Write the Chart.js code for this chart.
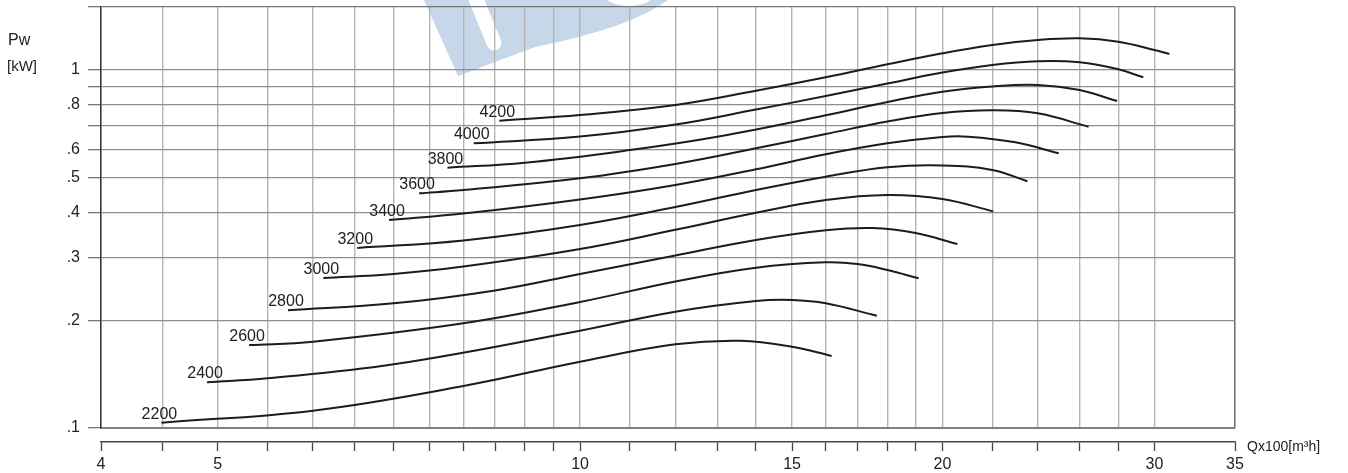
<!DOCTYPE html>
<html>
<head>
<meta charset="utf-8">
<script src="https://cdn.jsdelivr.net/npm/chart.js@4.4.0/dist/chart.umd.min.js"></script>
<style>
  html, body { margin: 0; padding: 0; background: #fff; }
  #wrap { width: 1348px; height: 473px; position: relative; }
</style>
</head>
<body>
<div id="wrap"><canvas id="chart"></canvas></div>
<script>
// fan speeds (rpm), one curve each
const speeds = [2200, 2400, 2600, 2800, 3000, 3200, 3400, 3600, 3800, 4000, 4200];

// Q x100 m3/h  /  Pw kW
const q2200 = [4.49, 6, 8, 10, 12, 13.6, 15, 16.18];
const p2200 = [0.1035, 0.1118, 0.1310, 0.1532, 0.1713, 0.1753, 0.1687, 0.1589];

const q2400 = [4.90, 5.5, 7, 10, 12, 14, 15, 16, 17.64];
const p2400 = [0.1342, 0.1377, 0.1506, 0.1870, 0.2113, 0.2263, 0.2278, 0.2230, 0.2059];

const q2600 = [5.31, 6, 8, 10, 12, 14, 16, 17, 18, 19.11];
const p2600 = [0.1705, 0.1742, 0.1961, 0.2249, 0.2566, 0.2804, 0.2903, 0.2871, 0.2763, 0.2619];

const q2800 = [5.72, 7, 8.5, 10, 12, 14, 16, 17.5, 19, 20.58];
const p2800 = [0.2132, 0.2230, 0.2423, 0.2693, 0.3033, 0.3350, 0.3566, 0.3619, 0.3505, 0.3266];

const q3000 = [6.12, 7, 8, 10, 12, 14, 16, 18, 20, 22.04];
const p3000 = [0.2624, 0.2693, 0.2825, 0.3162, 0.3578, 0.3993, 0.4334, 0.4475, 0.4362, 0.4029];

const q3200 = [6.53, 8, 10, 12, 14, 16, 18, 20, 22, 23.53];
const p3200 = [0.3183, 0.3340, 0.3690, 0.4143, 0.4623, 0.5035, 0.5349, 0.5411, 0.5257, 0.4889];

const q3400 = [6.94, 8, 10, 12, 14, 16, 18, 20, 21, 23, 24.98];
const p3400 = [0.3811, 0.3973, 0.4348, 0.4774, 0.5280, 0.5816, 0.6240, 0.6502, 0.6515, 0.6281, 0.5853];

const q3600 = [7.35, 8, 10, 12, 14, 16, 18, 20, 22, 24, 26.45];
const p3600 = [0.4525, 0.4623, 0.4982, 0.5464, 0.6043, 0.6625, 0.7181, 0.7583, 0.7716, 0.7570, 0.6944];

const q3800 = [7.76, 9, 11, 13, 16, 18, 20, 22, 24, 26, 27.93];
const p3800 = [0.5335, 0.5509, 0.5976, 0.6511, 0.7474, 0.8140, 0.8696, 0.8994, 0.9080, 0.8791, 0.8191];

const q4000 = [8.16, 10, 12, 14, 16, 18, 20, 22, 24, 26, 28, 29.37];
const p4000 = [0.6240, 0.6517, 0.7043, 0.7757, 0.8459, 0.9169, 0.9840, 1.0328, 1.0576, 1.0507, 1.0046, 0.9542];

const q4200 = [8.57, 10, 12, 14, 16, 18, 20, 22, 24, 26, 28, 30, 30.87];
const p4200 = [0.7219, 0.7487, 0.7986, 0.8753, 0.9542, 1.0373, 1.1134, 1.1744, 1.2129, 1.2261, 1.1998, 1.1372, 1.1085];

const flows = [q2200, q2400, q2600, q2800, q3000, q3200, q3400, q3600, q3800, q4000, q4200];
const powers = [p2200, p2400, p2600, p2800, p3000, p3200, p3400, p3600, p3800, p4000, p4200];

// grid / tick values
const xTicks = [4, 4.5, 5, 5.5, 6, 6.5, 7, 7.5, 8, 8.5, 9, 9.5, 10, 11, 12, 13, 14, 15, 16, 17, 18, 19, 20, 22, 24, 26, 28, 30, 35];
const xLabelled = [4, 5, 10, 15, 20, 30, 35];
const yTicks = [0.1, 0.2, 0.3, 0.4, 0.5, 0.6, 0.7, 0.8, 0.9, 1, 1.5];
const yTickText = ['.1', '.2', '.3', '.4', '.5', '.6', '', '.8', '', '1', ''];

const FONT = "'Liberation Sans', Arial, sans-serif";
Chart.defaults.font.family = FONT;
Chart.defaults.font.size = 16;
Chart.defaults.color = '#222';

const datasets = speeds.map((s, i) => ({
  label: String(s),
  data: flows[i].map((q, j) => ({ x: q, y: powers[i][j] })),
  borderColor: '#1c1c1c',
  borderWidth: 2,
  pointRadius: 0,
  fill: false,
  tension: 0.4
}));

// faint logo behind the grid
const watermark = {
  id: 'watermark',
  beforeDraw(chart) {
    const c = chart.ctx;
    c.save();
    c.fillStyle = '#c5d7e8';
    c.beginPath();
    c.moveTo(424, 0);
    c.lineTo(458, 76);
    c.lineTo(535, 47);
    c.quadraticCurveTo(630, 28, 668, 0);
    c.closePath();
    c.fill();
    c.strokeStyle = '#fff';
    c.lineWidth = 15;
    c.lineCap = 'round';
    c.beginPath();
    c.moveTo(474, -6);
    c.lineTo(494, 43);
    c.stroke();
    c.fillStyle = '#fff';
    c.beginPath();
    c.ellipse(629, -6, 25, 12, 0, 0, Math.PI * 2);
    c.fill();
    c.restore();
  }
};

// rpm tags at the start of every curve
const speedTags = {
  id: 'speedTags',
  afterDatasetsDraw(chart) {
    const c = chart.ctx;
    c.save();
    c.font = '16px ' + FONT;
    c.fillStyle = '#222';
    c.textAlign = 'center';
    c.textBaseline = 'alphabetic';
    chart.data.datasets.forEach((ds, i) => {
      const p = chart.getDatasetMeta(i).data[0];
      c.fillText(ds.label, p.x - 2, p.y - 4);
    });
    c.restore();
  }
};

// unit titles
const titles = {
  id: 'titles',
  afterDraw(chart) {
    const c = chart.ctx;
    const x2 = chart.scales.x2;
    c.save();
    c.fillStyle = '#222';
    c.textAlign = 'left';
    c.textBaseline = 'alphabetic';
    c.font = '16px ' + FONT;
    c.fillText('Pw', 8, 45);
    c.font = '15px ' + FONT;
    c.fillText('[kW]', 7, 71);
    c.font = '14px ' + FONT;
    c.fillText('Qx100[m³h]', chart.chartArea.right + 12, x2.top + 9);
    c.restore();
  }
};

new Chart(document.getElementById('chart'), {
  type: 'line',
  data: { datasets },
  plugins: [watermark, speedTags, titles],
  options: {
    responsive: true,
    maintainAspectRatio: false,
    animation: false,
    layout: { padding: { top: 7, right: 113, bottom: 0, left: 0 } },
    plugins: { legend: { display: false }, tooltip: { enabled: false } },
    scales: {
      x: {
        type: 'logarithmic',
        position: 'bottom',
        weight: 0,
        min: 4,
        max: 35,
        afterBuildTicks: s => { s.ticks = xTicks.map(v => ({ value: v })); },
        afterFit: s => { s.height = 14; s.paddingLeft = 0; s.paddingRight = 0; },
        ticks: { display: false },
        grid: {
          drawTicks: false,
          color: ctx => (ctx.tick && ctx.tick.value === 35) ? '#6a6a6a' : '#b4b4b4',
          lineWidth: ctx => (ctx.tick && ctx.tick.value === 35) ? 1.5 : 1.4
        },
        border: { display: true, color: '#808080', width: 2 }
      },
      x2: {
        type: 'logarithmic',
        position: 'bottom',
        weight: 1,
        min: 4,
        max: 35,
        afterBuildTicks: s => { s.ticks = xTicks.map(v => ({ value: v })); },
        afterFit: s => { s.height = 31; s.paddingLeft = 0; s.paddingRight = 0; },
        ticks: {
          autoSkip: false,
          maxRotation: 0,
          padding: 4,
          color: '#222',
          callback: v => xLabelled.includes(v) ? String(v) : ''
        },
        grid: { drawOnChartArea: false, drawTicks: true, tickLength: 9, tickColor: '#444', tickWidth: 1.3 },
        border: { display: true, color: '#444', width: 1.5 }
      },
      y: {
        type: 'logarithmic',
        position: 'left',
        min: 0.1,
        max: 1.5,
        afterBuildTicks: s => { s.ticks = yTicks.map(v => ({ value: v })); },
        afterFit: s => { s.width = 101; s.paddingTop = 0; s.paddingBottom = 0; },
        ticks: {
          autoSkip: false,
          padding: 8,
          color: '#222',
          callback: (v, i) => yTickText[i]
        },
        grid: {
          color: ctx => (ctx.tick && ctx.tick.value === 1.5) ? '#777' : '#8e8e8e',
          lineWidth: 1.3,
          tickLength: 13,
          tickColor: '#777'
        },
        border: { display: true, color: '#333', width: 1.5 }
      }
    }
  }
});
</script>
</body>
</html>
